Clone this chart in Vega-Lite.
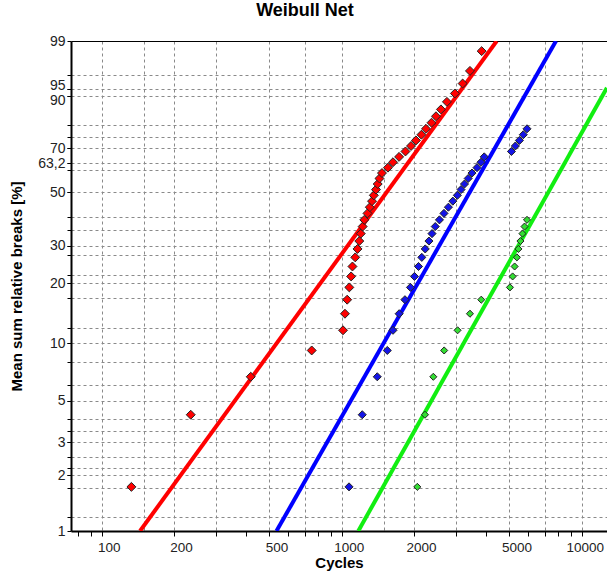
{
  "$schema": "https://vega.github.io/schema/vega-lite/v6.json",
  "width": 536,
  "height": 490,
  "autosize": {"type": "none"},
  "padding": {"left": 71, "top": 41, "right": 0, "bottom": 43},
  "background": "white",
  "title": {"text": "Weibull Net", "fontSize": 18, "fontWeight": "bold", "font": "Liberation Sans", "color": "black", "anchor": "middle", "dx": -34, "offset": 14},
  "config": {"font": "Liberation Sans", "view": {"stroke": null}},
  "datasets": {
    "fits": [
      {"series": "S1", "cycles": 144.5, "pct": 1},
      {"series": "S1", "cycles": 4426, "pct": 99},
      {"series": "S2", "cycles": 535, "pct": 1},
      {"series": "S2", "cycles": 7816, "pct": 99},
      {"series": "S3", "cycles": 1173, "pct": 1},
      {"series": "S3", "cycles": 12740, "pct": 92.3}
    ],
    "points": [
      {"series": "S1", "cycles": 133, "pct": 1.73},
      {"series": "S1", "cycles": 235, "pct": 4.21},
      {"series": "S1", "cycles": 418, "pct": 6.68},
      {"series": "S1", "cycles": 750, "pct": 9.16},
      {"series": "S1", "cycles": 1013, "pct": 11.63},
      {"series": "S1", "cycles": 1032, "pct": 14.11},
      {"series": "S1", "cycles": 1054, "pct": 16.58},
      {"series": "S1", "cycles": 1076, "pct": 19.06},
      {"series": "S1", "cycles": 1095, "pct": 21.53},
      {"series": "S1", "cycles": 1109, "pct": 24.01},
      {"series": "S1", "cycles": 1139, "pct": 26.49},
      {"series": "S1", "cycles": 1164, "pct": 28.96},
      {"series": "S1", "cycles": 1184, "pct": 31.44},
      {"series": "S1", "cycles": 1201, "pct": 33.91},
      {"series": "S1", "cycles": 1223, "pct": 36.39},
      {"series": "S1", "cycles": 1242, "pct": 38.86},
      {"series": "S1", "cycles": 1281, "pct": 41.34},
      {"series": "S1", "cycles": 1310, "pct": 43.81},
      {"series": "S1", "cycles": 1338, "pct": 46.29},
      {"series": "S1", "cycles": 1361, "pct": 48.76},
      {"series": "S1", "cycles": 1390, "pct": 51.24},
      {"series": "S1", "cycles": 1413, "pct": 53.71},
      {"series": "S1", "cycles": 1437, "pct": 56.19},
      {"series": "S1", "cycles": 1472, "pct": 58.66},
      {"series": "S1", "cycles": 1559, "pct": 61.14},
      {"series": "S1", "cycles": 1636, "pct": 63.61},
      {"series": "S1", "cycles": 1735, "pct": 66.09},
      {"series": "S1", "cycles": 1844, "pct": 68.56},
      {"series": "S1", "cycles": 1945, "pct": 71.04},
      {"series": "S1", "cycles": 2039, "pct": 73.51},
      {"series": "S1", "cycles": 2149, "pct": 75.99},
      {"series": "S1", "cycles": 2245, "pct": 78.47},
      {"series": "S1", "cycles": 2368, "pct": 80.94},
      {"series": "S1", "cycles": 2472, "pct": 83.42},
      {"series": "S1", "cycles": 2592, "pct": 85.89},
      {"series": "S1", "cycles": 2745, "pct": 88.37},
      {"series": "S1", "cycles": 2963, "pct": 90.84},
      {"series": "S1", "cycles": 3192, "pct": 93.32},
      {"series": "S1", "cycles": 3424, "pct": 95.79},
      {"series": "S1", "cycles": 3831, "pct": 98.27},
      {"series": "S2", "cycles": 1073, "pct": 1.73},
      {"series": "S2", "cycles": 1218, "pct": 4.21},
      {"series": "S2", "cycles": 1407, "pct": 6.68},
      {"series": "S2", "cycles": 1549, "pct": 9.16},
      {"series": "S2", "cycles": 1636, "pct": 11.63},
      {"series": "S2", "cycles": 1736, "pct": 14.11},
      {"series": "S2", "cycles": 1835, "pct": 16.58},
      {"series": "S2", "cycles": 1935, "pct": 19.06},
      {"series": "S2", "cycles": 2010, "pct": 21.53},
      {"series": "S2", "cycles": 2090, "pct": 24.01},
      {"series": "S2", "cycles": 2157, "pct": 26.49},
      {"series": "S2", "cycles": 2229, "pct": 28.96},
      {"series": "S2", "cycles": 2310, "pct": 31.44},
      {"series": "S2", "cycles": 2379, "pct": 33.91},
      {"series": "S2", "cycles": 2454, "pct": 36.39},
      {"series": "S2", "cycles": 2555, "pct": 38.86},
      {"series": "S2", "cycles": 2668, "pct": 41.34},
      {"series": "S2", "cycles": 2784, "pct": 43.81},
      {"series": "S2", "cycles": 2905, "pct": 46.29},
      {"series": "S2", "cycles": 3034, "pct": 48.76},
      {"series": "S2", "cycles": 3143, "pct": 51.24},
      {"series": "S2", "cycles": 3249, "pct": 53.71},
      {"series": "S2", "cycles": 3366, "pct": 56.19},
      {"series": "S2", "cycles": 3491, "pct": 58.66},
      {"series": "S2", "cycles": 3664, "pct": 61.14},
      {"series": "S2", "cycles": 3806, "pct": 63.61},
      {"series": "S2", "cycles": 3926, "pct": 66.09},
      {"series": "S2", "cycles": 5097, "pct": 68.56},
      {"series": "S2", "cycles": 5294, "pct": 71.04},
      {"series": "S2", "cycles": 5503, "pct": 73.51},
      {"series": "S2", "cycles": 5712, "pct": 75.99},
      {"series": "S2", "cycles": 5918, "pct": 78.47},
      {"series": "S3", "cycles": 2066, "pct": 1.73},
      {"series": "S3", "cycles": 2224, "pct": 4.21},
      {"series": "S3", "cycles": 2409, "pct": 6.68},
      {"series": "S3", "cycles": 2673, "pct": 9.16},
      {"series": "S3", "cycles": 3040, "pct": 11.63},
      {"series": "S3", "cycles": 3424, "pct": 14.11},
      {"series": "S3", "cycles": 3816, "pct": 16.58},
      {"series": "S3", "cycles": 5025, "pct": 19.06},
      {"series": "S3", "cycles": 5156, "pct": 21.53},
      {"series": "S3", "cycles": 5255, "pct": 24.01},
      {"series": "S3", "cycles": 5370, "pct": 26.49},
      {"series": "S3", "cycles": 5450, "pct": 28.96},
      {"series": "S3", "cycles": 5557, "pct": 31.44},
      {"series": "S3", "cycles": 5667, "pct": 33.91},
      {"series": "S3", "cycles": 5779, "pct": 36.39},
      {"series": "S3", "cycles": 5918, "pct": 38.86}
    ]
  },
  "resolve": {
    "scale": {"x": "shared", "y": "shared", "color": "independent", "size": "independent"},
    "axis": {"x": "independent", "y": "independent"}
  },
  "layer": [
    {
      "data": {"name": "fits"},
      "transform": [{"calculate": "log(-log(1 - datum.pct / 100))", "as": "w"}],
      "mark": {"type": "line", "strokeWidth": 4, "clip": true},
      "encoding": {
        "x": {
          "field": "cycles", "type": "quantitative",
          "scale": {"type": "log", "domain": [74.5, 12750], "nice": false},
          "axis": {
            "orient": "bottom", "values": [100, 150, 200, 300, 500, 700, 1000, 1500, 2000, 3000, 5000, 7000, 10000],
            "domain": false, "ticks": false, "labels": false, "title": null,
            "grid": true, "gridColor": "#8a8a8a", "gridDash": [3, 3], "gridWidth": 1, "gridOpacity": 1
          }
        },
        "y": {
          "field": "w", "type": "quantitative",
          "scale": {"domain": [-4.6002, 1.5272], "nice": false, "zero": false},
          "axis": {
            "orient": "left",
            "values": [1.097, 0.926, 0.834, 0.476, 0.327, 0.186, 0, -0.087, -0.367, -0.672, -0.842, -1.031, -1.15, -1.4, -1.5, -1.682, -2.061, -2.25, -2.49, -2.777, -2.97, -3.203, -3.35, -3.491, -3.68, -3.817, -3.902, -4.067, -4.42],
            "domain": false, "ticks": true, "tickSize": 4, "tickColor": "black", "labels": false, "title": null,
            "grid": true, "gridColor": "#8a8a8a", "gridDash": [3, 3], "gridWidth": 1, "gridOpacity": 1
          }
        },
        "detail": {"field": "series"},
        "color": {"field": "series", "type": "nominal", "legend": null,
          "scale": {"domain": ["S1", "S2", "S3"], "range": ["#ff0000", "#0000ff", "#11ee11"]}}
      }
    },
    {
      "data": {"name": "points"},
      "transform": [{"calculate": "log(-log(1 - datum.pct / 100))", "as": "w"}],
      "mark": {"type": "point", "shape": "diamond", "filled": true, "stroke": "#222222", "strokeWidth": 1, "opacity": 1},
      "encoding": {
        "x": {
          "field": "cycles", "type": "quantitative",
          "scale": {"type": "log", "domain": [74.5, 12750], "nice": false},
          "axis": {
            "orient": "bottom", "values": [80, 90, 100, 200, 300, 400, 500, 600, 700, 800, 900, 1000, 2000, 3000, 4000, 5000, 6000, 7000, 8000, 9000, 10000],
            "format": "d",
            "labelExpr": "indexof([100, 200, 500, 1000, 2000, 5000, 10000], datum.value) >= 0 ? datum.label : ''",
            "domain": true, "domainColor": "black", "domainWidth": 2,
            "ticks": true, "tickSize": 5, "tickColor": "black",
            "labels": true, "labelFontSize": 13.5, "labelColor": "#222222",
            "labelOffset": {"expr": "datum.value > 9000 ? 3 : 7"}, "labelPadding": 4,
            "labelOverlap": false, "labelFlush": false, "labelBound": false,
            "grid": false,
            "title": "Cycles", "titleFontSize": 15, "titleFontWeight": "bold", "titleColor": "black", "titlePadding": 2
          }
        },
        "y": {
          "field": "w", "type": "quantitative",
          "scale": {"domain": [-4.6002, 1.5272], "nice": false, "zero": false},
          "axis": {
            "orient": "left",
            "values": [1.5272, 0.926, 0.834, 0.1856, 0, -0.3665, -1.0309, -1.4999, -2.2504, -2.9702, -3.4914, -3.9019, -4.6002],
            "labelExpr": "datum.value > 1.4 ? '99' : datum.value > 0.9 ? '95' : datum.value > 0.8 ? '90' : datum.value > 0.1 ? '70' : datum.value > -0.1 ? '63,2' : datum.value > -0.5 ? '50' : datum.value > -1.2 ? '30' : datum.value > -1.7 ? '20' : datum.value > -2.5 ? '10' : datum.value > -3.2 ? '5' : datum.value > -3.7 ? '3' : datum.value > -4.2 ? '2' : '1'",
            "labelOffset": {"expr": "datum.value > 0.9 && datum.value < 1 ? -4 : datum.value > 0.8 && datum.value < 0.9 ? 4 : 0"},
            "domain": true, "domainColor": "black", "domainWidth": 2,
            "ticks": true, "tickSize": 4, "tickColor": "black",
            "labels": true, "labelFontSize": 14, "labelColor": "#222222", "labelPadding": 2,
            "labelOverlap": false, "labelFlush": false, "labelBound": false,
            "grid": false,
            "title": "Mean sum relative breaks [%]", "titleFontSize": 15, "titleFontWeight": "bold", "titleColor": "black", "titlePadding": 13
          }
        },
        "color": {"field": "series", "type": "nominal", "legend": null,
          "scale": {"domain": ["S1", "S2", "S3"], "range": ["#ff0000", "#1414e6", "#33dd33"]}},
        "size": {"field": "series", "type": "nominal", "legend": null,
          "scale": {"domain": ["S1", "S2", "S3"], "range": [80, 50, 60]}}
      }
    },
    {
      "data": {"name": "fits"},
      "transform": [{"calculate": "log(-log(1 - datum.pct / 100))", "as": "w"}],
      "mark": {"type": "point", "opacity": 0},
      "encoding": {
        "x": {
          "field": "cycles", "type": "quantitative",
          "scale": {"type": "log", "domain": [74.5, 12750], "nice": false},
          "axis": {"orient": "top", "domain": true, "domainColor": "black", "domainWidth": 1, "ticks": false, "labels": false, "grid": false, "title": null}
        },
        "y": {
          "field": "w", "type": "quantitative",
          "scale": {"domain": [-4.6002, 1.5272], "nice": false, "zero": false},
          "axis": null
        }
      }
    }
  ]
}
